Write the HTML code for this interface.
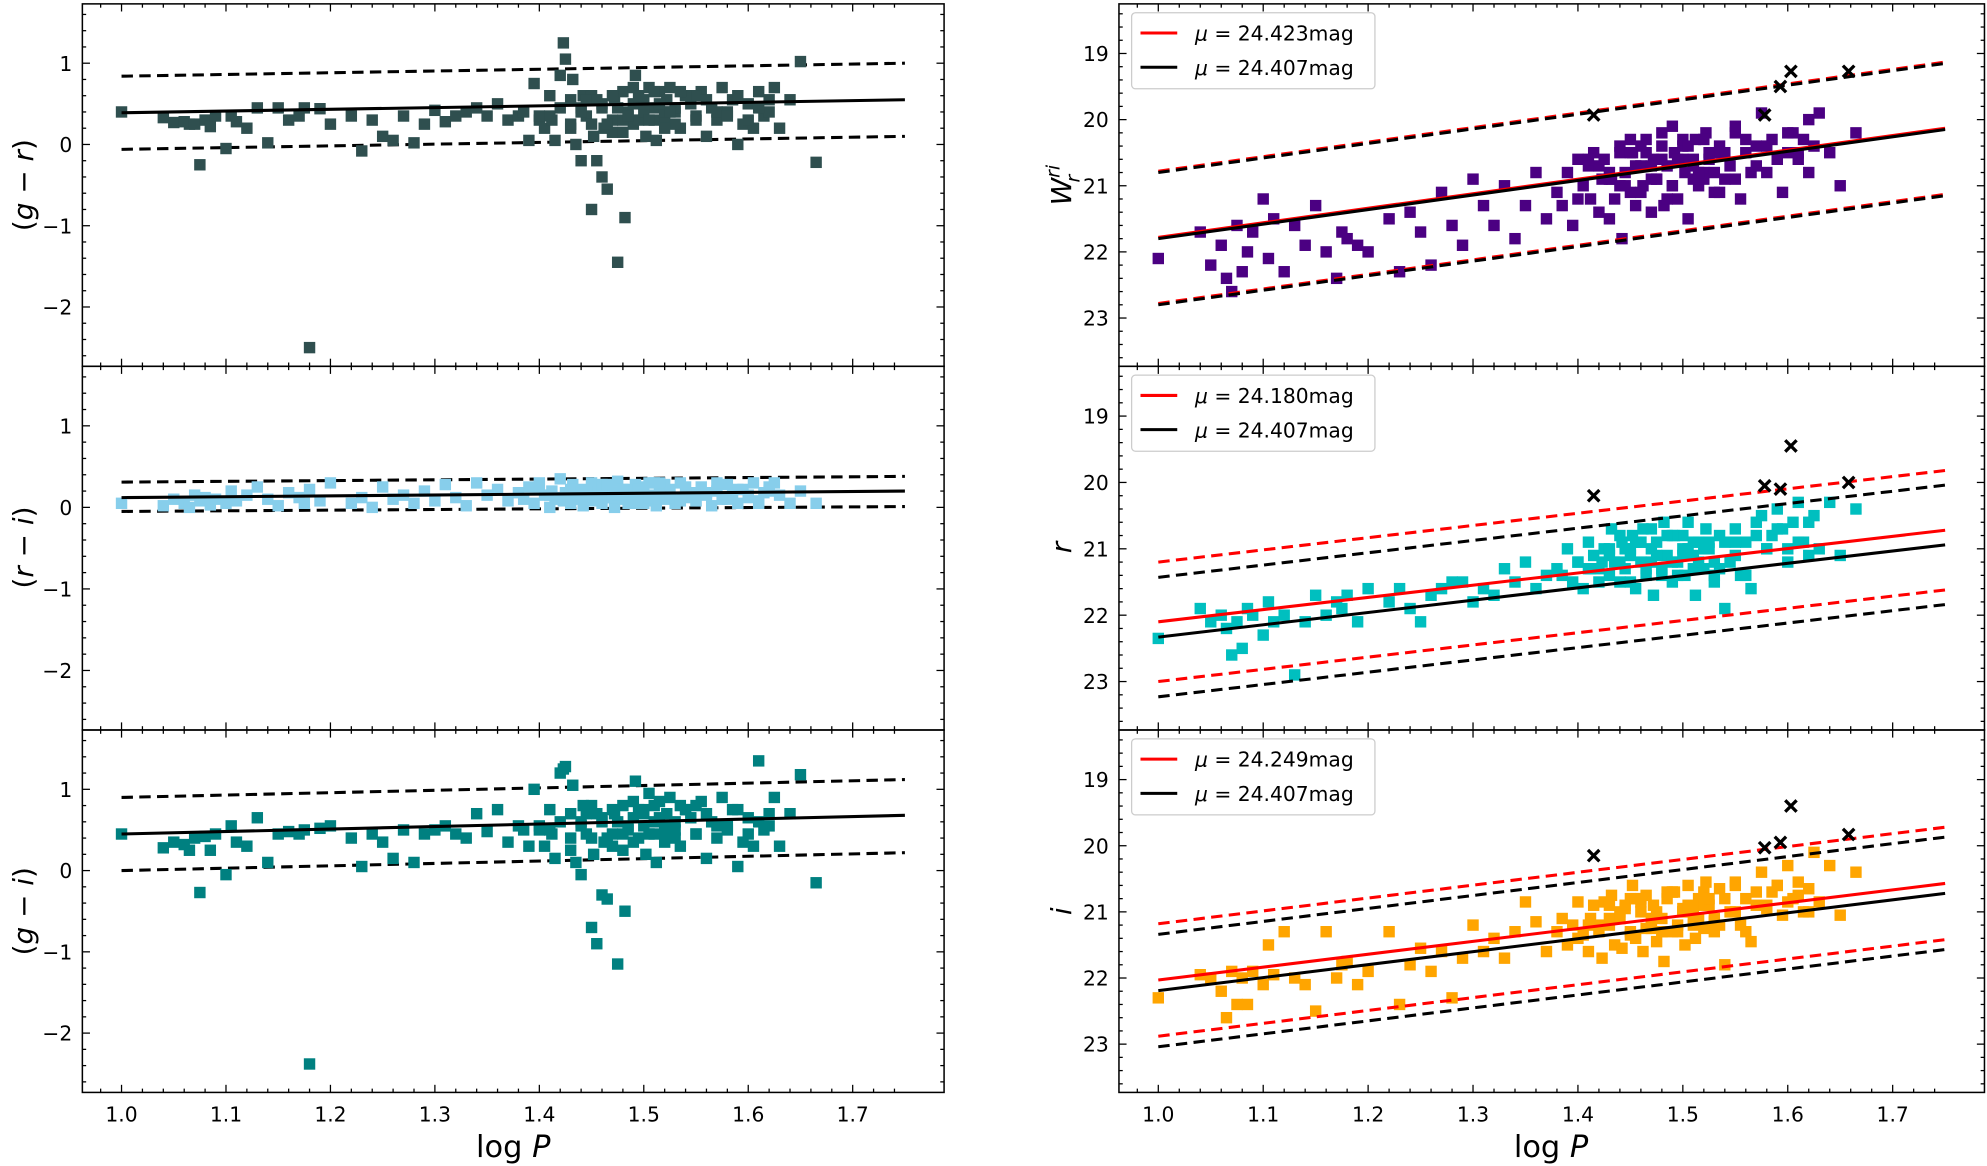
<!DOCTYPE html>
<html><head><meta charset="utf-8"><style>
html,body{margin:0;padding:0;background:#fff;}
svg{display:block;font-family:"DejaVu Sans","Liberation Sans",sans-serif;}
</style></head><body>
<svg id="fig" width="1987" height="1166" viewBox="0 0 1568 920" xmlns="http://www.w3.org/2000/svg"></svg>
<script>
const logP = [
1.00,1.04,1.05,1.06,1.065,1.07,1.075,1.08,1.085,1.09,
1.10,1.105,1.11,1.12,1.13,1.14,1.15,1.16,1.17,1.175,
1.18,1.19,1.20,1.22,1.23,1.24,1.25,1.26,1.27,1.28,
1.29,1.30,1.31,1.32,1.33,1.34,1.35,1.36,1.37,1.38,
1.385,1.39,1.395,1.40,1.405,1.41,1.412,1.415,1.42,1.423,
1.425,1.43,1.432,1.435,1.44,1.442,1.445,1.45,1.452,1.455,
1.46,1.462,1.465,1.47,1.472,1.475,1.48,1.482,1.485,1.49,
1.492,1.495,1.50,1.502,1.505,1.51,1.512,1.515,1.52,1.522,
1.525,1.53,1.535,1.54,1.545,1.55,1.555,1.56,1.565,1.57,
1.575,1.58,1.585,1.59,1.595,1.60,1.605,1.61,1.615,1.62,
1.625,1.63,1.64,1.65,1.665,1.44,1.45,1.47,1.49,1.51,
1.43,1.46,1.48,1.50,1.52,1.53,1.55,1.40,1.42,1.445,
1.41,1.43,1.45,1.46,1.47,1.48,1.49,1.50,1.51,1.52,
1.53,1.54,1.55,1.56,1.57,1.58,1.59,1.60,1.61,1.62,
1.44,1.455,1.465,1.475,1.485,1.495,1.505,1.515,1.525,1.535];
const gr = [
0.40,0.33,0.27,0.28,0.25,0.25,-0.25,0.30,0.22,0.35,
-0.05,0.35,0.28,0.20,0.45,0.02,0.45,0.30,0.35,0.45,
-2.5,0.44,0.25,0.35,-0.08,0.30,0.10,0.05,0.35,0.02,
0.25,0.42,0.28,0.35,0.40,0.45,0.35,0.50,0.30,0.35,
0.40,0.05,0.75,0.30,0.20,0.60,0.30,0.05,0.85,1.25,
1.05,0.20,0.80,0.00,-0.20,0.60,0.35,-0.80,0.10,-0.20,
-0.40,0.20,-0.55,0.30,0.55,-1.45,0.65,-0.90,0.40,0.25,
0.85,0.30,0.50,0.10,0.70,0.45,0.05,0.65,0.30,0.55,
0.70,0.40,0.20,0.60,0.50,0.35,0.65,0.10,0.45,0.30,
0.70,0.40,0.55,0.00,0.25,0.50,0.20,0.65,0.35,0.40,
0.70,0.20,0.55,1.02,-0.22,0.45,0.60,0.15,0.70,0.30,
0.25,0.50,0.15,0.55,0.40,0.25,0.60,0.35,0.45,0.55,
0.35,0.55,0.25,0.45,0.60,0.30,0.50,0.40,0.65,0.20,
0.45,0.60,0.30,0.55,0.40,0.35,0.60,0.30,0.45,0.55,
0.40,0.55,0.25,0.45,0.35,0.60,0.30,0.50,0.40,0.65];
const ri = [
0.05,0.02,0.10,0.05,0.00,0.15,0.08,0.12,0.03,0.10,
0.05,0.20,0.08,0.15,0.25,0.10,0.02,0.18,0.12,0.05,
0.22,0.08,0.30,0.05,0.12,0.00,0.25,0.10,0.15,0.05,
0.20,0.08,0.28,0.12,0.02,0.30,0.15,0.22,0.08,0.18,
0.10,0.25,0.05,0.30,0.15,0.00,0.20,0.12,0.35,0.08,
0.18,0.05,0.28,0.12,0.22,0.02,0.15,0.30,0.10,0.20,
0.05,0.25,0.12,0.18,0.00,0.32,0.10,0.22,0.15,0.05,
0.28,0.12,0.20,0.08,0.30,0.15,0.02,0.25,0.10,0.18,
0.22,0.05,0.30,0.12,0.18,0.08,0.25,0.15,0.02,0.20,
0.10,0.28,0.15,0.05,0.22,0.12,0.30,0.08,0.18,0.25,
0.30,0.15,0.05,0.20,0.05,0.10,0.25,0.18,0.12,0.30,
0.08,0.15,0.22,0.05,0.28,0.12,0.18,0.25,0.10,0.20,
0.15,0.22,0.08,0.28,0.12,0.18,0.05,0.25,0.10,0.20,
0.12,0.25,0.08,0.18,0.30,0.10,0.22,0.15,0.05,0.20,
0.20,0.10,0.28,0.15,0.05,0.22,0.12,0.30,0.18,0.08];
const gi = [
0.45,0.28,0.35,0.32,0.25,0.40,-0.27,0.42,0.25,0.45,
-0.05,0.55,0.35,0.30,0.65,0.10,0.45,0.48,0.45,0.50,
-2.38,0.52,0.55,0.40,0.05,0.45,0.35,0.15,0.50,0.10,
0.45,0.50,0.55,0.45,0.40,0.70,0.48,0.75,0.35,0.55,
0.50,0.30,1.00,0.55,0.30,0.75,0.45,0.15,1.20,1.25,
1.28,0.25,1.05,0.10,-0.05,0.80,0.45,-0.70,0.20,-0.90,
-0.30,0.35,-0.35,0.45,0.70,-1.15,0.80,-0.50,0.55,0.35,
1.10,0.40,0.70,0.20,0.95,0.60,0.10,0.85,0.45,0.70,
0.90,0.50,0.30,0.75,0.65,0.45,0.85,0.15,0.60,0.40,
0.90,0.55,0.75,0.05,0.35,0.65,0.30,1.35,0.50,0.55,
0.90,0.30,0.70,1.18,-0.15,0.60,0.80,0.30,0.85,0.45,
0.40,0.65,0.25,0.75,0.55,0.40,0.80,0.50,0.60,0.70,
0.50,0.70,0.40,0.60,0.75,0.45,0.65,0.55,0.80,0.35,
0.60,0.75,0.45,0.70,0.55,0.50,0.75,0.45,0.60,0.70,
0.55,0.70,0.40,0.60,0.50,0.75,0.45,0.65,0.55,0.80];
const wri = [
22.1,21.7,22.2,21.9,22.4,22.6,21.6,22.3,22.0,21.7,
21.2,22.1,21.5,22.3,21.6,21.9,21.3,22.0,22.4,21.7,
21.8,21.9,22.0,21.5,22.3,21.4,21.7,22.2,21.1,21.6,
21.9,20.9,21.3,21.6,21.0,21.8,21.3,20.8,21.5,21.1,
21.3,20.8,21.6,20.6,21.0,20.7,21.2,20.5,21.4,20.9,
20.6,21.5,20.9,21.2,20.4,21.8,20.8,21.1,20.5,21.3,
20.7,21.0,20.3,21.4,20.6,20.9,20.2,21.3,20.7,21.0,
20.5,21.2,20.4,20.8,21.5,20.6,20.3,21.0,20.8,20.2,
20.6,21.1,20.4,20.9,20.7,20.2,21.2,20.5,20.8,20.4,
19.9,20.8,20.3,20.6,21.1,20.5,20.2,20.6,20.3,20.0,
20.4,19.9,20.5,21.0,20.2,20.5,20.3,20.9,20.1,20.7,
20.8,20.4,20.6,20.3,20.9,20.5,20.1,21.2,20.7,21.0,
20.6,20.9,20.5,21.1,20.7,20.4,21.0,20.6,20.9,20.3,
20.8,20.5,20.9,20.3,20.7,20.4,20.6,20.2,20.5,20.8,
21.0,20.7,20.5,20.9,21.2,20.6,20.4,20.8,20.5,21.1];
const rmag = [
22.35,21.9,22.1,22.0,22.2,22.6,22.1,22.5,21.9,22.0,
22.3,21.8,22.1,22.0,22.9,22.1,21.7,22.0,21.8,21.9,
21.7,22.1,21.6,21.8,21.6,21.9,22.1,21.7,21.6,21.5,
21.5,21.8,21.6,21.7,21.3,21.5,21.2,21.6,21.4,21.3,
21.4,21.0,21.5,21.2,21.6,20.9,21.3,21.1,21.5,21.2,
21.0,21.4,20.7,21.2,21.5,20.9,21.3,21.1,20.8,21.6,
21.2,20.7,21.4,21.0,21.7,20.9,21.3,20.6,21.1,21.5,
20.8,21.2,21.0,21.4,20.6,21.1,21.7,20.9,21.3,20.7,
21.0,21.5,20.8,21.9,21.2,20.7,21.4,20.9,21.6,20.6,
20.5,21.0,20.8,20.4,20.7,21.2,20.6,20.3,20.9,20.6,
20.5,21.0,20.3,21.1,20.4,20.8,21.0,20.7,21.2,20.9,
21.1,20.9,21.3,20.8,21.0,21.4,20.9,21.2,21.3,21.0,
21.3,21.0,21.5,20.9,21.2,21.4,20.8,21.1,21.3,21.0,
21.2,20.9,21.1,21.4,20.8,21.0,20.7,21.0,20.9,21.1,
21.2,20.9,21.3,21.1,20.8,21.4,21.0,21.2,20.9,21.3];
const imag = [
22.3,21.95,22.0,22.2,22.6,21.9,22.4,22.0,22.4,21.9,
22.1,21.5,21.95,21.3,22.0,22.1,22.5,21.3,22.0,21.8,
21.75,22.1,21.9,21.3,22.4,21.8,21.55,21.9,21.6,22.3,
21.7,21.2,21.6,21.4,21.7,21.3,20.85,21.15,21.6,21.3,
21.1,21.5,21.2,20.85,21.35,21.6,21.1,20.9,21.3,21.7,
20.85,21.2,20.75,21.5,21.1,21.55,20.95,21.3,20.6,21.4,
21.0,21.6,20.75,21.2,20.9,21.45,21.1,21.75,20.8,21.3,
20.7,21.2,20.95,21.5,20.6,21.1,21.4,20.8,21.25,20.55,
20.9,21.3,20.65,21.8,21.0,20.55,21.2,20.8,21.45,20.9,
20.4,20.95,20.7,20.6,21.05,20.3,20.8,20.55,21.0,20.65,
20.1,20.85,20.3,21.05,20.4,21.0,20.8,21.25,20.7,20.95,
21.1,20.85,21.3,21.0,20.7,21.15,20.6,21.4,21.2,20.9,
21.2,20.9,21.35,20.8,21.1,21.3,20.7,21.0,21.2,20.9,
21.1,20.8,21.0,21.3,20.7,20.9,20.6,20.85,20.75,21.0,
21.1,20.8,21.25,21.0,20.7,21.3,20.9,21.1,20.8,21.2];
const crossP = [1.415,1.578,1.593,1.603,1.658];
const crossW = [19.93,19.93,19.5,19.27,19.27];
const crossR = [20.2,20.05,20.1,19.45,20.0];
const crossI = [20.15,20.03,19.95,19.4,19.83];
// fit lines: [value at logP=1.0, value at logP=1.75]
const fitGR = [0.39,0.55], bandGR = [[0.84,1.0],[-0.06,0.10]];
const fitRI = [0.12,0.20], bandRI = [[0.31,0.38],[-0.05,0.01]];
const fitGI = [0.45,0.68], bandGI = [[0.90,1.12],[0.00,0.22]];
const fitWred = [21.78,20.13], fitWblk = [21.80,20.15], bandW = 1.0;
const fitRred = [22.10,20.72], fitRblk = [22.33,20.94], bandR = 0.9;
const fitIred = [22.03,20.57], fitIblk = [22.19,20.72], bandI = 0.85;
const muW = ['24.423','24.407'], muR = ['24.180','24.407'], muI = ['24.249','24.407'];
const xTicks = [1.0,1.1,1.2,1.3,1.4,1.5,1.6,1.7];
const leftYTicks = [-2,-1,0,1];
const rightYTicks = [19,20,21,22,23];

const NS = 'http://www.w3.org/2000/svg';
const svg = document.getElementById('fig');
function mk(tag, attrs, parent){ const e=document.createElementNS(NS,tag); for(const k in attrs) e.setAttribute(k,attrs[k]); (parent||svg).appendChild(e); return e; }

const XMIN=0.9625, XMAX=1.7875;
const panelsY = [[3,289],[289,576],[576,862]];
const LX=[65,745], RX=[883,1566];

function makePanel(side, row, ylo, yhi, inverted, name){
  const [x0,x1] = side==='L'?LX:RX; const [y0,y1]=panelsY[row];
  const g = mk('g',{});
  
  
  const sx = v => x0 + (v-XMIN)/(XMAX-XMIN)*(x1-x0);
  const sy = inverted ? (v => y0 + (v-ylo)/(yhi-ylo)*(y1-y0)) : (v => y1 - (v-ylo)/(yhi-ylo)*(y1-y0));
  return {g,sx,sy,x0,x1,y0,y1,ylo,yhi};
}
function frame(P, yTicks, yMinorStep, showX){
  const {g,sx,sy,x0,x1,y0,y1,ylo,yhi}=P;
  const ax = mk('g',{},g);
  
  
  for(let v=1.0; v<=1.76; v+=0.02){ const X=sx(v); const major=Math.abs((v*10)-Math.round(v*10))<0.01; const L=major?6:3;
    mk('line',{x1:X,x2:X,y1:y1,y2:y1-L,stroke:'#000','stroke-width':1},ax);
    mk('line',{x1:X,x2:X,y1:y0,y2:y0+L,stroke:'#000','stroke-width':1},ax); }
  for(let v=1.0-0.02; v>XMIN; v-=0.02){ const X=sx(v); mk('line',{x1:X,x2:X,y1:y1,y2:y1-3,stroke:'#000'},ax); mk('line',{x1:X,x2:X,y1:y0,y2:y0+3,stroke:'#000'},ax);}
  const lo=Math.min(ylo,yhi), hi=Math.max(ylo,yhi);
  for(let v=Math.ceil(lo/yMinorStep)*yMinorStep; v<=hi; v+=yMinorStep){ const Y=sy(v); const major=Math.abs(v-Math.round(v))<0.01; const L=major?6:3;
    mk('line',{x1:x0,x2:x0+L,y1:Y,y2:Y,stroke:'#000'},ax); mk('line',{x1:x1,x2:x1-L,y1:Y,y2:Y,stroke:'#000'},ax); }
  yTicks.forEach(t=>{ const tx=mk('text',{x:x0-8,y:sy(t)+6,'text-anchor':'end','font-size':16},ax); tx.textContent = t<0?'\u2212'+(-t):String(t);
      });
  if(showX) xTicks.forEach(t=>{ const tx=mk('text',{x:sx(t),y:y1+23,'text-anchor':'middle','font-size':16},ax); tx.textContent=t.toFixed(1);
      });
  mk('rect',{x:x0,y:y0,width:x1-x0,height:y1-y0,fill:'none',stroke:'#000','stroke-width':1.2},g);
}
function seg(P, a, b, color, dashed){
  const l=mk('line',{x1:P.sx(1.0),y1:P.sy(a),x2:P.sx(1.75),y2:P.sy(b),stroke:color,'stroke-width':2.4,'stroke-dasharray':dashed?'9,5':'none'},P.g);
  
  
}
function scatter(P, ys, color, name){
  const sg=mk('g',{},P.g);
  
  
  for(let k=0;k<logP.length;k++){
    const r=mk('rect',{x:P.sx(logP[k])-4.5,y:P.sy(ys[k])-4.5,width:9,height:9,fill:color},sg);
    
    
  }
}
function crosses(P, ys){
  for(let k=0;k<crossP.length;k++){ const X=P.sx(crossP[k]), Y=P.sy(ys[k]);
    const c=mk('path',{d:`M${X-4.5},${Y-4.5}L${X+4.5},${Y+4.5}M${X-4.5},${Y+4.5}L${X+4.5},${Y-4.5}`,stroke:'#000','stroke-width':2.6},P.g);
    
     }
}
function legend(P, mus){
  const lg=mk('g',{},P.g);
  
  
  mk('rect',{x:P.x0+10,y:P.y0+7,width:192,height:60,rx:3,fill:'#fff',stroke:'#ccc','stroke-width':1},lg);
  [['red',mus[0],23],['#000',mus[1],50]].forEach(([c,m,dy])=>{
    const e=mk('g',{},lg);
    
    
    mk('line',{x1:P.x0+17,x2:P.x0+46,y1:P.y0+dy,y2:P.y0+dy,stroke:c,'stroke-width':2.4},e);
    const t=mk('text',{x:P.x0+60,y:P.y0+dy+6,'font-size':16},e);
    t.innerHTML='<tspan font-style="italic">\u03bc</tspan> = '+m+'mag';
  });
}
function ylabel(x,y,html,name){
  const t=mk('text',{x:x,y:y,'font-size':22,'text-anchor':'middle',transform:`rotate(-90 ${x} ${y})`});
  t.innerHTML=html;
  
  
}

// Left panels
const L1=makePanel('L',0,-2.73,1.73,false,'panel-g-r');
frame(L1,leftYTicks,0.2,false); seg(L1,...bandGR[0],'#000',true); seg(L1,...bandGR[1],'#000',true); scatter(L1,gr,'#2f4f4f','series-g-r'); seg(L1,...fitGR,'#000',false);
const L2=makePanel('L',1,-2.73,1.73,false,'panel-r-i');
frame(L2,leftYTicks,0.2,false); seg(L2,...bandRI[0],'#000',true); seg(L2,...bandRI[1],'#000',true); scatter(L2,ri,'#87ceeb','series-r-i'); seg(L2,...fitRI,'#000',false);
const L3=makePanel('L',2,-2.73,1.73,false,'panel-g-i');
frame(L3,leftYTicks,0.2,true); seg(L3,...bandGI[0],'#000',true); seg(L3,...bandGI[1],'#000',true); scatter(L3,gi,'#008080','series-g-i'); seg(L3,...fitGI,'#000',false);

// Right panels
function rightPanel(row, ys, color, fr, fb, band, cr, mus, name){
  const P=makePanel('R',row,18.25,23.73,true,name);
  frame(P,rightYTicks,0.2,row===2);
  scatter(P,ys,color,'series-'+name);
  seg(P,fr[0]-band,fr[1]-band,'red',true); seg(P,fr[0]+band,fr[1]+band,'red',true);
  seg(P,fb[0]-band,fb[1]-band,'#000',true); seg(P,fb[0]+band,fb[1]+band,'#000',true);
  seg(P,fr[0],fr[1],'red',false); seg(P,fb[0],fb[1],'#000',false);
  crosses(P,cr); legend(P,mus);
}
rightPanel(0,wri,'#4b0082',fitWred,fitWblk,bandW,crossW,muW,'panel-wesenheit');
rightPanel(1,rmag,'#00bfbf',fitRred,fitRblk,bandR,crossR,muR,'panel-r');
rightPanel(2,imag,'#ffa500',fitIred,fitIblk,bandI,crossI,muI,'panel-i');

ylabel(26,146,'(<tspan font-style="italic">g</tspan> \u2212 <tspan font-style="italic">r</tspan>)','y-axis-title-g-r');
ylabel(26,432,'(<tspan font-style="italic">r</tspan> \u2212 <tspan font-style="italic">i</tspan>)','y-axis-title-r-i');
ylabel(26,719,'(<tspan font-style="italic">g</tspan> \u2212 <tspan font-style="italic">i</tspan>)','y-axis-title-g-i');
ylabel(845,146,'<tspan font-style="italic">W</tspan><tspan font-style="italic" font-size="15" dy="-9">ri</tspan><tspan font-style="italic" font-size="15" dx="-14" dy="16">r</tspan>','y-axis-title-w');
ylabel(845,432,'<tspan font-style="italic">r</tspan>','y-axis-title-r');
ylabel(845,719,'<tspan font-style="italic">i</tspan>','y-axis-title-i');
[[405,'x-axis-title-left'],[1224,'x-axis-title-right']].forEach(([x,n])=>{
  const t=mk('text',{x:x,y:913,'font-size':24,'text-anchor':'middle'});
  t.innerHTML='log <tspan font-style="italic">P</tspan>';
  
  
});
</script>
</body></html>
